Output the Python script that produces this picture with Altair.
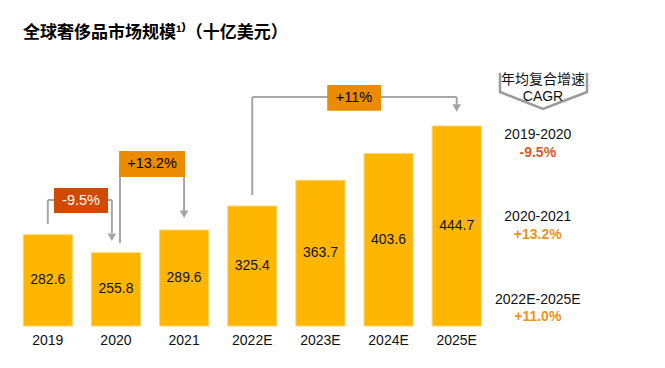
import altair as alt
import pandas as pd

# ---- data ----
years = ["2019", "2020", "2021", "2022E", "2023E", "2024E", "2025E"]
values = [282.6, 255.8, 289.6, 325.4, 363.7, 403.6, 444.7]
baseline = 146.5

title_text = ["全球奢侈品市场规模¹⁾（十亿美元）"]

# growth callouts (between bars)
callout_labels = ["-9.5%", "+13.2%", "+11%"]
callout_fill = ["#D04A02", "#EB8C00", "#EB8C00"]
callout_textcolor = ["#FFFFFF", "#000000", "#000000"]

# right-side CAGR panel
cagr_header = ["年均复合增速", "CAGR"]
cagr_periods = ["2019-2020", "2020-2021", "2022E-2025E"]
cagr_values = ["-9.5%", "+13.2%", "+11.0%"]
cagr_colors = ["#DB5A1E", "#EE9320", "#EE9320"]

FONT = "Liberation Sans, Noto Sans CJK SC"
GREY = "#A6A6A6"

# ---- geometry in data units (x = bar index, y = value units) ----
xs = alt.Scale(domain=[-0.584, 8.939], nice=False, zero=False)
ys = alt.Scale(domain=[95.8, 620.7], nice=False, zero=False)

bars = pd.DataFrame({
    "year": years,
    "value": values,
    "x0": [i - 0.36 for i in range(len(years))],
    "x1": [i + 0.36 for i in range(len(years))],
    "xc": list(range(len(years))),
    "base": [baseline] * len(years),
    "mid": [(baseline + v) / 2 for v in values],
    "lab_y": [124.1] * len(years),
})

segs = pd.DataFrame({
    "x": [0.0, 0.0, 0.94, 1.059, 1.059, 2.0, 3.0, 3.0, 6.0],
    "y": [334.4, 334.4, 334.4, 388.0, 388.0, 388.0, 488.0, 488.0, 488.0],
    "x2": [0.94, 0.0, 0.94, 2.0, 1.059, 2.0, 6.0, 3.0, 6.0],
    "y2": [334.4, 298.6, 285.2, 388.0, 270.3, 316.5, 488.0, 341.8, 476.1],
})

heads = pd.DataFrame({"x": [0.94, 2.0, 6.0], "y": [279.0, 313.0, 471.5]})

boxes = pd.DataFrame({
    "label": callout_labels,
    "fill": callout_fill,
    "tc": callout_textcolor,
    "x": [0.09, 1.046, 4.10],
    "x2": [0.884, 2.013, 4.89],
    "y": [315.0, 368.7, 467.6],
    "y2": [352.3, 407.5, 505.9],
    "xc": [0.487, 1.529, 4.493],
    "yc": [333.6, 388.0, 486.5],
})

chevron = pd.DataFrame({
    "o": [0, 1, 2, 3, 4],
    "x": [6.635, 6.635, 7.266, 7.912, 7.912],
    "y": [523.8, 495.4, 470.1, 495.4, 523.8],
})

header = pd.DataFrame({"t": cagr_header, "x": [7.266, 7.266], "y": [513.3, 488.0]})
periods = pd.DataFrame({"t": cagr_periods, "x": [7.19] * 3, "y": [431.3, 309.0, 185.3]})
rates = pd.DataFrame({"t": cagr_values, "c": cagr_colors, "x": [7.19] * 3, "y": [404.5, 282.2, 159.9]})
title = pd.DataFrame({"t": title_text, "x": [-0.364], "y": [582.7]})

X = lambda f: alt.X(f, type="quantitative", scale=xs, axis=None)
Y = lambda f: alt.Y(f, type="quantitative", scale=ys, axis=None)

bar_layer = alt.Chart(bars).mark_bar(color="#FFB600", stroke="#FFD46A", strokeWidth=1).encode(
    x=X("x0"), x2="x1", y=Y("base"), y2="value")

val_layer = alt.Chart(bars).transform_calculate(lbl="format(datum.value, '.1f')").mark_text(
    font=FONT, fontSize=14, color="#111111", baseline="middle").encode(
    x=X("xc"), y=Y("mid"), text="lbl:N")

axis_layer = alt.Chart(bars).mark_text(font=FONT, fontSize=14, color="#111111", baseline="middle").encode(
    x=X("xc"), y=Y("lab_y"), text="year:N")

seg_layer = alt.Chart(segs).mark_rule(color=GREY, strokeWidth=2).encode(
    x=X("x"), y=Y("y"), x2="x2", y2="y2")

head_layer = alt.Chart(heads).mark_point(shape="triangle-down", filled=True, color=GREY, size=75, opacity=1).encode(
    x=X("x"), y=Y("y"))

box_layer = alt.Chart(boxes).mark_rect().encode(
    x=X("x"), x2="x2", y=Y("y"), y2="y2", color=alt.Color("fill:N", scale=None))

box_text = alt.Chart(boxes).mark_text(font=FONT, fontSize=14.5, baseline="middle").encode(
    x=X("xc"), y=Y("yc"), text="label:N", color=alt.Color("tc:N", scale=None))

chev_layer = alt.Chart(chevron).mark_line(color="#9A9A9A", strokeWidth=2.5).encode(
    x=X("x"), y=Y("y"), order="o:Q")

header_layer = alt.Chart(header).mark_text(font=FONT, fontSize=14, color="#111111", baseline="middle").encode(
    x=X("x"), y=Y("y"), text="t:N")

period_layer = alt.Chart(periods).mark_text(font=FONT, fontSize=14, color="#111111", baseline="middle").encode(
    x=X("x"), y=Y("y"), text="t:N")

rate_layer = alt.Chart(rates).mark_text(font=FONT, fontSize=14, fontWeight="bold", baseline="middle").encode(
    x=X("x"), y=Y("y"), text="t:N", color=alt.Color("c:N", scale=None))

title_layer = alt.Chart(title).mark_text(font=FONT, fontSize=17, fontWeight="bold", color="#000000",
                                         align="left", baseline="middle").encode(
    x=X("x"), y=Y("y"), text="t:N")

chart = alt.layer(
    bar_layer, val_layer, axis_layer, seg_layer, head_layer, box_layer, box_text,
    chev_layer, header_layer, period_layer, rate_layer, title_layer,
).properties(
    width=649, height=352,
    padding={"left": 0, "top": 0, "right": 0, "bottom": 0},
    autosize=alt.AutoSizeParams(type="none"),
    background="white",
).configure_view(stroke=None)

chart.save("out.html", embed_options={"renderer": "svg", "actions": False})
